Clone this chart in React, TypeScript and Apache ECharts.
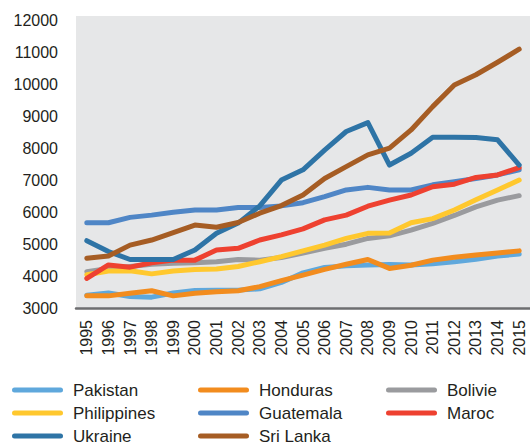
import React, { useEffect, useRef } from "react";
import * as echarts from "echarts";

const years = ["1995","1996","1997","1998","1999","2000","2001","2002","2003","2004","2005","2006","2007","2008","2009","2010","2011","2012","2013","2014","2015"];
const yTicks = [3000, 4000, 5000, 6000, 7000, 8000, 9000, 10000, 11000, 12000];

const pakistan = [3400, 3470, 3360, 3340, 3470, 3550, 3560, 3560, 3600, 3800, 4100, 4270, 4320, 4350, 4360, 4350, 4390, 4450, 4530, 4630, 4690];
const honduras = [3380, 3380, 3460, 3540, 3380, 3460, 3510, 3540, 3670, 3860, 4030, 4210, 4370, 4520, 4240, 4340, 4500, 4590, 4660, 4720, 4790];
const bolivie = [4140, 4240, 4300, 4370, 4400, 4420, 4450, 4520, 4500, 4580, 4720, 4870, 5000, 5180, 5260, 5440, 5650, 5900, 6170, 6380, 6520];
const philippines = [4040, 4160, 4170, 4070, 4160, 4210, 4220, 4300, 4450, 4610, 4790, 4970, 5180, 5340, 5350, 5670, 5800, 6070, 6390, 6700, 7010];
const guatemala = [5670, 5670, 5840, 5910, 6000, 6070, 6070, 6150, 6150, 6200, 6300, 6490, 6700, 6780, 6700, 6700, 6860, 6960, 7060, 7170, 7330];
const maroc = [3930, 4350, 4280, 4420, 4500, 4500, 4820, 4870, 5130, 5290, 5480, 5760, 5910, 6190, 6380, 6540, 6800, 6880, 7090, 7170, 7400];
const ukraine = [5110, 4770, 4520, 4520, 4520, 4820, 5340, 5660, 6200, 7010, 7330, 7950, 8530, 8810, 7480, 7850, 8350, 8350, 8340, 8270, 7480];
const sriLanka = [4560, 4630, 4970, 5130, 5360, 5600, 5530, 5680, 5970, 6210, 6540, 7060, 7430, 7800, 8010, 8580, 9310, 9990, 10310, 10700, 11110];

const seriesNames = ["Pakistan", "Honduras", "Bolivie", "Philippines", "Guatemala", "Maroc", "Ukraine", "Sri Lanka"];
const seriesData = [pakistan, honduras, bolivie, philippines, guatemala, maroc, ukraine, sriLanka];
const seriesColors = ["#5FA8DC", "#F28C1E", "#9A9B9E", "#FFC82E", "#4F86C6", "#EE4130", "#2E74A6", "#A65D24"];

const legendColumns = [
  ["Pakistan", "Philippines", "Ukraine"],
  ["Honduras", "Guatemala", "Sri Lanka"],
  ["Bolivie", "Maroc"],
];
const legendLefts = [12, 198, 386];

const FONT = "'Liberation Sans', Arial, Helvetica, sans-serif";
const capsule = "path://M2.5,0H48.5A2.5,2.5,0,0,1,48.5,5H2.5A2.5,2.5,0,0,1,2.5,0Z";

export default function App() {
  const ref = useRef<HTMLDivElement>(null);
  useEffect(() => {
    if (!ref.current) return;
    const chart = echarts.init(ref.current, null, { renderer: "svg" });
    chart.setOption({
      animation: false,
      backgroundColor: "#ffffff",
      textStyle: { fontFamily: FONT },
      grid: {
        left: 76,
        right: 0,
        top: 16,
        bottom: 136,
        show: true,
        backgroundColor: "#E6E7E8",
        borderWidth: 0,
        containLabel: false,
      },
      xAxis: {
        type: "category",
        data: years,
        boundaryGap: true,
        axisLine: { show: true, lineStyle: { color: "#6D6E70", width: 2.5 } },
        axisTick: { show: false },
        axisLabel: {
          rotate: 90,
          fontSize: 16,
          color: "#231F20",
          fontFamily: FONT,
          margin: 12,
          interval: 0,
        },
        splitLine: { show: false },
      },
      yAxis: {
        type: "value",
        min: 3000,
        max: 12150,
        interval: 1000,
        axisLine: { show: false },
        axisTick: { show: false },
        splitLine: { show: false },
        axisLabel: {
          fontSize: 16,
          color: "#231F20",
          fontFamily: FONT,
          margin: 18,
          formatter: (v: number) => (yTicks.indexOf(v) >= 0 ? String(v) : ""),
        },
      },
      legend: legendColumns.map((col, i) => ({
        data: col.map((n) => ({ name: n, icon: capsule })),
        orient: "vertical",
        left: legendLefts[i],
        top: 381,
        height: 90,
        padding: 0,
        itemWidth: 51,
        itemHeight: 5,
        itemGap: 5,
        selectedMode: false,
        textStyle: {
          fontSize: 17,
          color: "#231F20",
          fontFamily: FONT,
          padding: [0, 0, 0, 5],
          lineHeight: 18,
        },
      })),
      series: seriesNames.map((name, i) => ({
        name,
        type: "line",
        data: seriesData[i],
        symbol: "none",
        color: seriesColors[i],
        lineStyle: { width: 5, color: seriesColors[i], cap: "round", join: "round" },
        itemStyle: { color: seriesColors[i] },
      })),
    });
    return () => chart.dispose();
  }, []);
  return <div ref={ref} style={{ width: 530, height: 444, position: "absolute", left: 0, top: 0 }} />;
}
